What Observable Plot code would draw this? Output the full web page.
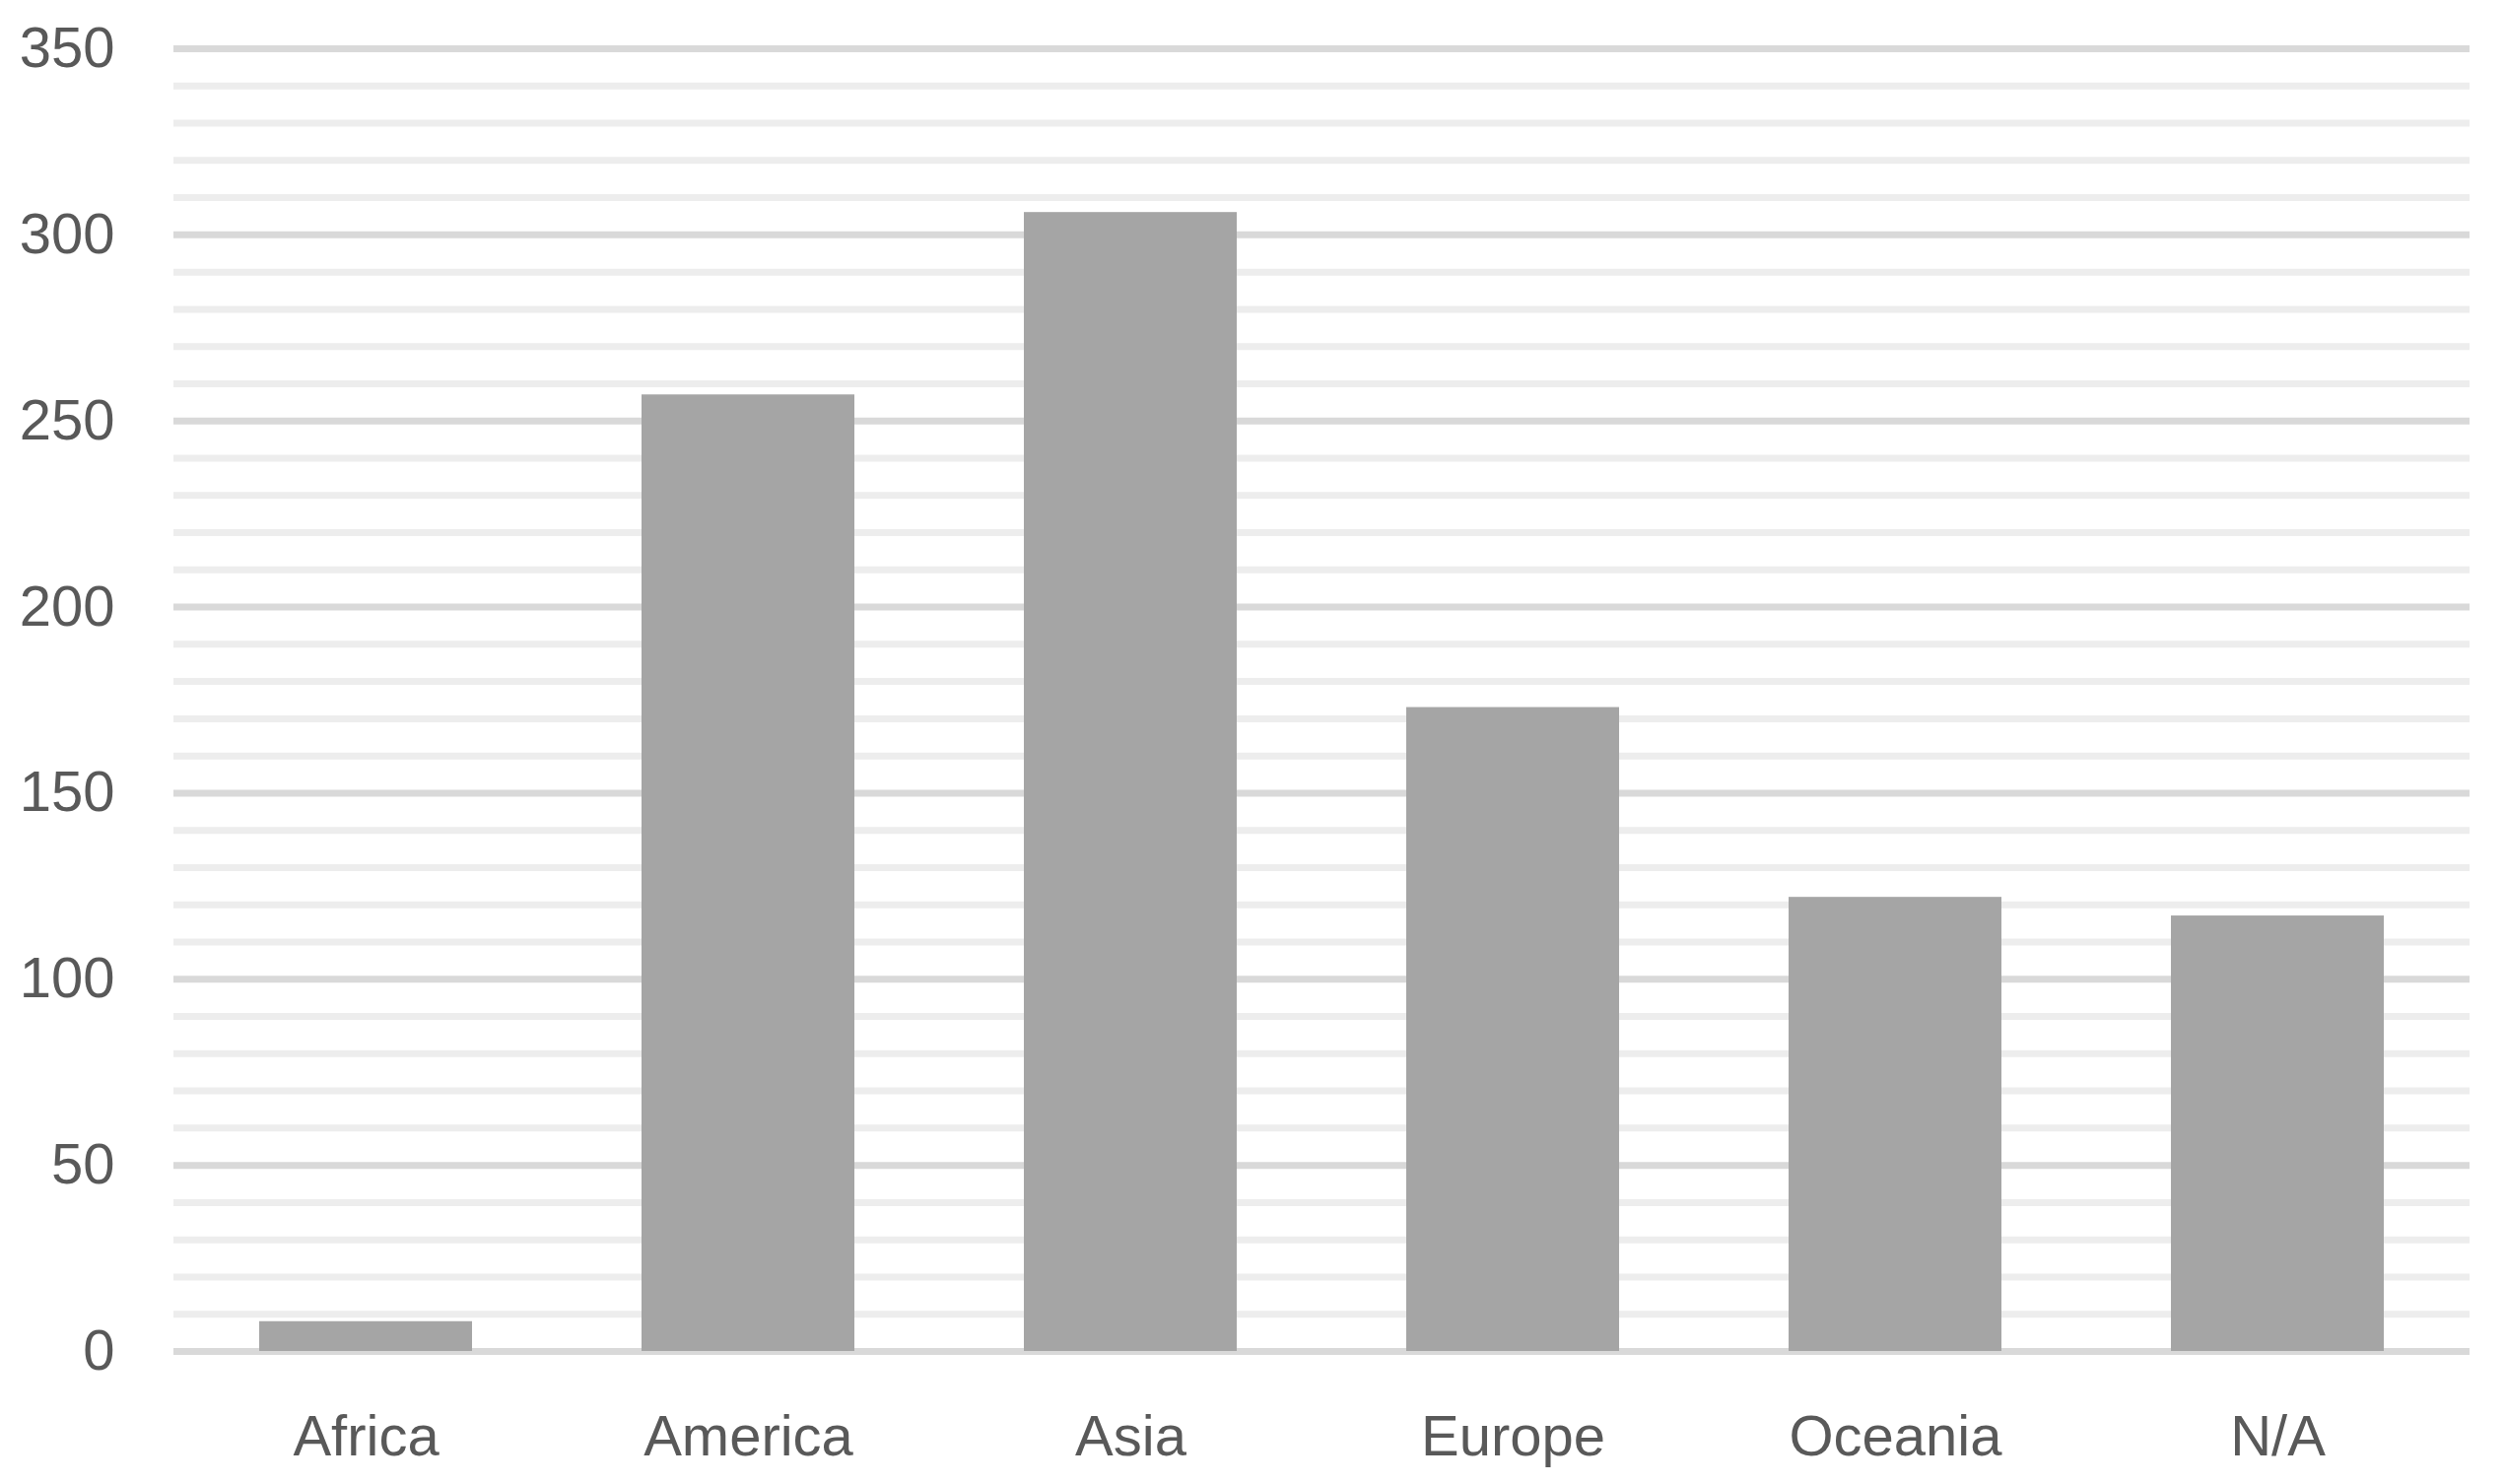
<!DOCTYPE html>
<html>
<head>
<meta charset="utf-8">
<script src="https://cdn.jsdelivr.net/npm/d3@7"></script>
<script src="https://cdn.jsdelivr.net/npm/@observablehq/plot@0.6"></script>
<style>
  html, body { margin: 0; padding: 0; background: #ffffff; }
  #chart svg { display: block; }
</style>
</head>
<body>
<div id="chart"></div>
<script>
const categories = ["Africa", "America", "Asia", "Europe", "Oceania", "N/A"];
const counts = [8, 257, 306, 173, 122, 117];
const majorTicks = [0, 50, 100, 150, 200, 250, 300, 350];
const minorTicks = [10, 20, 30, 40, 60, 70, 80, 90, 110, 120, 130, 140, 160, 170, 180, 190,
  210, 220, 230, 240, 260, 270, 280, 290, 310, 320, 330, 340];

const data = categories.map((c, i) => ({region: c, value: counts[i]}));

const chart = Plot.plot({
  width: 2542,
  height: 1506,
  marginLeft: 176,
  marginRight: 36,
  marginTop: 49,
  marginBottom: 135,
  style: {background: "#ffffff", fontFamily: "Liberation Sans, Arial, sans-serif", fontSize: "58px", color: "#595959"},
  x: {domain: categories, paddingInner: 0.443, paddingOuter: 0.2215, label: null},
  y: {domain: [0, 350], label: null},
  marks: [
    Plot.ruleY(minorTicks, {stroke: "#ededed", strokeWidth: 7}),
    Plot.ruleY(majorTicks, {stroke: "#d9d9d9", strokeWidth: 7}),
    Plot.barY(data, {x: "region", y: "value", fill: "#a5a5a5"}),
    Plot.axisY({ticks: majorTicks, tickSize: 0, tickPadding: 60, tickFormat: d => String(d), fontSize: 58, fill: "#595959", label: null}),
    Plot.axisX({tickSize: 0, tickPadding: 64, fontSize: 58, fill: "#595959", label: null})
  ]
});
document.getElementById("chart").appendChild(chart);
</script>
</body>
</html>
